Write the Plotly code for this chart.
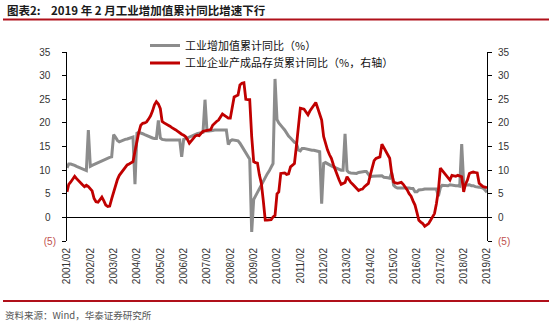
import plotly.graph_objects as go
import pandas as pd

# Monthly observations, 2001/02 .. 2019/02 (Jan..Dec rows, first row starts in Feb)
iva_cum_yoy = [
    10.5, 11.3, 11.3, 11.2, 11.0, 10.8, 10.6, 10.5, 10.3, 10.1, 9.9,
    18.5, 10.8, 11.0, 11.2, 11.4, 11.6, 11.8, 12.0, 12.2, 12.4, 12.6, 12.7,
    12.8, 17.5, 17.0, 16.3, 16.0, 16.2, 16.4, 16.5, 16.6, 16.7, 16.9, 17.0,
    7.0, 17.8, 18.0, 17.9, 17.7, 17.5, 17.3, 17.1, 16.9, 16.8, 16.7, 16.7,
    20.5, 16.8, 16.5, 16.4, 16.4, 16.4, 16.4, 16.3, 16.3, 16.3, 16.3, 16.4,
    12.8, 16.5, 16.6, 16.8, 17.0, 17.2, 17.4, 17.6, 17.7, 17.8, 17.9, 18.0,
    24.9, 18.3, 18.3, 18.3, 18.4, 18.5, 18.5, 18.5, 18.5, 18.5, 18.5, 18.5,
    15.4, 16.2, 16.4, 16.3, 16.3, 16.2, 15.7, 15.0, 14.3, 13.5, 12.8, 12.3,
    -3.1, 3.8, 4.5, 5.3, 6.0, 7.0, 7.7, 8.5, 9.2, 9.8, 10.7, 11.4,
    29.3, 20.7, 20.0, 19.6, 19.0, 18.5, 17.8, 17.2, 16.8, 16.3, 15.9, 15.7,
    14.3, 14.1, 14.6, 14.6, 14.5, 14.3, 14.3, 14.2, 14.2, 14.1, 14.0, 13.9,
    2.9, 11.4, 11.6, 11.3, 11.1, 10.9, 10.7, 10.5, 10.3, 10.1, 10.0, 10.0,
    17.7, 9.9, 9.5, 9.4, 9.4, 9.4, 9.3, 9.5, 9.6, 9.7, 9.7, 9.7,
    9.0, 8.6, 8.7, 8.7, 8.7, 8.8, 8.8, 8.8, 8.5, 8.5, 8.4, 8.3,
    9.5, 6.8, 6.4, 6.2, 6.2, 6.3, 6.3, 6.3, 6.3, 6.2, 6.1, 6.1,
    5.4, 5.4, 5.8, 5.8, 5.9, 6.0, 6.0, 6.0, 6.0, 6.0, 6.0, 6.0,
    4.5, 6.3, 6.8, 6.8, 6.7, 6.7, 6.9, 6.8, 6.7, 6.7, 6.7, 6.6,
    15.5, 7.2, 6.8, 6.9, 6.9, 6.7, 6.7, 6.5, 6.5, 6.4, 6.3, 6.2,
    5.8, 5.3,
]

inventory_cum_yoy = [
    5.4, 7.0, 7.5, 8.0, 8.7, 8.2, 7.7, 7.2, 6.9, 6.5, 6.8,
    6.5, 6.0, 5.6, 4.0, 3.3, 3.2, 3.8, 4.3, 3.5, 2.6, 2.3, 2.4,
    3.9, 5.5, 7.0, 8.0, 8.9, 9.5, 10.1, 10.6, 11.1, 11.3, 11.5, 11.8,
    14.0, 16.5, 18.0, 19.5, 19.9, 20.0, 20.2, 20.8, 21.5, 22.5, 23.8, 24.5,
    24.0, 23.0, 20.3, 20.0, 19.8, 19.6, 19.3, 19.0, 18.8, 18.5, 18.2, 17.8,
    17.6, 17.4, 17.1, 16.5, 15.7, 16.2, 16.7, 17.2, 17.4, 17.3, 17.8, 18.2,
    18.3, 18.4, 18.5, 18.6, 19.5, 20.0, 20.3, 20.6, 21.2, 21.9, 21.6, 21.3,
    21.0, 21.0, 23.0, 25.5, 25.7, 25.9, 28.0, 28.4, 28.5, 25.0, 24.9, 24.9,
    17.1, 11.8, 11.6, 11.5, 9.0, 7.2, 3.6, -0.6, -0.6, -0.6, -0.5, 0.1,
    0.4, 5.0, 5.4, 9.3, 9.4, 9.4, 9.1, 9.2, 10.7, 11.0, 11.4, 15.0,
    18.9, 23.1, 23.0, 22.9, 22.3, 21.7, 22.5, 23.1, 23.8, 24.3, 23.1, 22.0,
    20.6, 17.1, 15.5, 14.3, 13.3, 12.5, 11.2, 10.0, 8.9, 7.9, 7.0, 7.2,
    7.4, 8.6, 8.0, 7.4, 7.0, 6.5, 6.0, 5.7, 5.9, 6.0, 6.5, 6.9,
    7.2, 9.0, 10.7, 12.0, 12.5, 12.7, 12.8, 15.5, 14.8, 13.9, 13.2, 12.5,
    9.3, 7.5, 7.3, 7.2, 7.3, 7.4, 7.0, 6.5, 5.8, 5.0, 4.5, 3.5,
    2.6, 1.0, -0.6, -1.0, -1.3, -1.9, -1.6, -1.3, -0.6, 0.0, 0.8, 2.9,
    5.7, 10.4, 9.9, 9.4, 8.8, 8.2, 7.9, 8.9, 8.8, 8.7, 8.9, 8.8,
    8.6, 5.4, 7.0, 7.9, 9.3, 9.5, 9.6, 9.5, 9.4, 7.2, 6.9, 6.5,
    6.4, 6.3,
]

months = pd.date_range("2001-02-01", "2019-02-01", freq="MS")
tick_dates = pd.date_range("2001-02-01", "2019-02-01", freq="12MS")
tick_labels = [d.strftime("%Y/%m") for d in tick_dates]

y_ticks = [-5, 0, 5, 10, 15, 20, 25, 30, 35]
NEG = "#C0504D"
left_ticktext = [f"<span style='color:{NEG}'>(5)</span>" if v < 0 else f"{v}\u2007" for v in y_ticks]
right_ticktext = [f"<span style='color:{NEG}'>(5)</span>" if v < 0 else f"{v}" for v in y_ticks]

series_names = ["工业增加值累计同比（%）", "工业企业产成品存货累计同比（%，右轴）"]

W, H = 550, 322
L, R, T, B = 67, 63, 52, 81
PW, PH = W - L - R, H - T - B


def px_x(px):
    return (px - L) / PW


def px_y(py):
    return (H - B - py) / PH


NUM_FONT = "Liberation Sans, Arial, sans-serif"
CJK_FONT = "Noto Sans CJK SC, sans-serif"
LEGEND_FONT = dict(family=CJK_FONT, size=11, color="#111")

fig = go.Figure()
fig.add_trace(go.Scatter(
    x=months, y=iva_cum_yoy, name=series_names[0], mode="lines",
    line=dict(color="#8C8C8C", width=3), legend="legend",
))
fig.add_trace(go.Scatter(
    x=months, y=inventory_cum_yoy, name=series_names[1], mode="lines",
    line=dict(color="#C00000", width=2.8), yaxis="y2", legend="legend2",
))

fig.update_layout(
    width=W, height=H,
    margin=dict(l=L, r=R, t=T, b=B, pad=0),
    paper_bgcolor="white", plot_bgcolor="white",
    showlegend=True,
    legend=dict(
        x=px_x(145), y=px_y(45.5), xanchor="left", yanchor="middle",
        bgcolor="rgba(0,0,0,0)", font=LEGEND_FONT, itemwidth=30,
    ),
    legend2=dict(
        x=px_x(145), y=px_y(63), xanchor="left", yanchor="middle",
        bgcolor="rgba(0,0,0,0)", font=LEGEND_FONT, itemwidth=30,
    ),
    xaxis=dict(
        type="date", range=[months[0], months[-1]],
        tickvals=tick_dates, ticktext=tick_labels, tickangle=-90,
        ticks="", showline=False, showgrid=False, zeroline=False,
        tickfont=dict(family=NUM_FONT, size=10, color="#333"),
        ticklabelstandoff=4,
    ),
    xaxis2=dict(
        type="date", range=[months[0], months[-1]], overlaying="x",
        anchor="free", position=5 / 40,
        tickvals=tick_dates, ticks="outside", ticklen=4, tickcolor="black",
        showticklabels=False, showline=False, showgrid=False, zeroline=False,
    ),
    yaxis=dict(
        range=[-5, 35], tickvals=y_ticks, ticktext=left_ticktext,
        ticks="outside", ticklen=4, tickcolor="black",
        showline=True, linecolor="black", linewidth=1,
        zeroline=True, zerolinecolor="black", zerolinewidth=1,
        showgrid=False, tickfont=dict(family=NUM_FONT, size=10, color="#333"),
        ticklabelstandoff=4,
    ),
    yaxis2=dict(
        range=[-5, 35], tickvals=y_ticks, ticktext=right_ticktext,
        overlaying="y", side="right", anchor="x",
        ticks="outside", ticklen=4, tickcolor="black",
        showline=True, linecolor="black", linewidth=1,
        zeroline=False, showgrid=False,
        tickfont=dict(family=NUM_FONT, size=10, color="#333"),
        ticklabelstandoff=4,
    ),
)

# Header and source lines
fig.add_shape(type="line", xref="paper", yref="paper",
              x0=px_x(3), x1=px_x(549), y0=px_y(19.5), y1=px_y(19.5),
              line=dict(color="#B0101A", width=2))
fig.add_shape(type="line", xref="paper", yref="paper",
              x0=px_x(3), x1=px_x(549), y0=px_y(301), y1=px_y(301),
              line=dict(color="#B0101A", width=2))

fig.add_annotation(
    text="<b>图表2:\u00a0\u00a0\u00a0 2019 年 2 月工业增加值累计同比增速下行</b>",
    xref="paper", yref="paper", x=px_x(5), y=px_y(9.5),
    xanchor="left", yanchor="middle", showarrow=False,
    font=dict(family=CJK_FONT, size=11.5, color="#1a1a1a"),
)
fig.add_annotation(
    text="资料来源：Wind，华泰证券研究所",
    xref="paper", yref="paper", x=px_x(3), y=px_y(315),
    xanchor="left", yanchor="middle", showarrow=False,
    font=dict(family=CJK_FONT, size=9.5, color="#555"),
)

fig.write_html("out.html")
